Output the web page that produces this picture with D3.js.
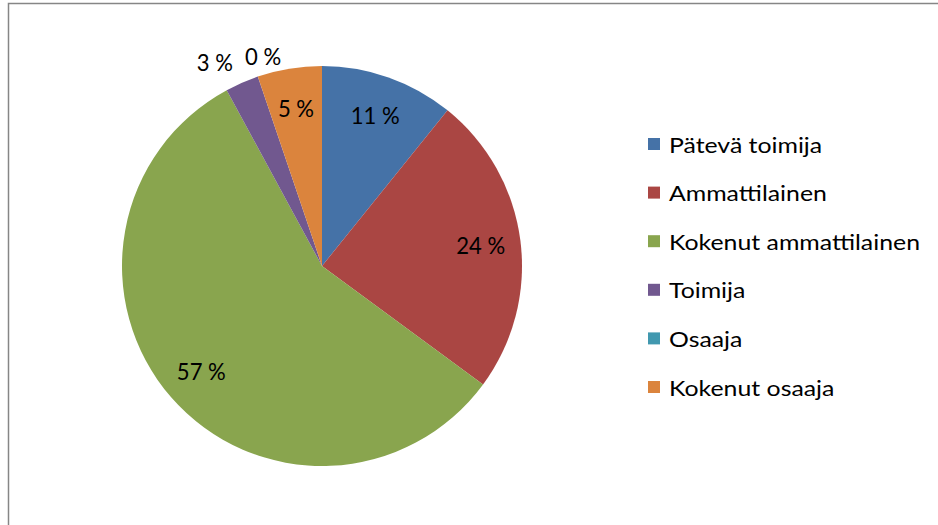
<!DOCTYPE html>
<html>
<head>
<meta charset="utf-8">
<script src="https://cdn.jsdelivr.net/npm/d3@7"></script>
<style>
  html, body { margin: 0; padding: 0; background: #fff; }
  svg { display: block; }
  text { font-family: Lato, "Open Sans", "DejaVu Sans", sans-serif; fill: #000; }
</style>
</head>
<body>
<svg id="chart" width="938" height="525"></svg>
<script>
const categories = ["Pätevä toimija", "Ammattilainen", "Kokenut ammattilainen", "Toimija", "Osaaja", "Kokenut osaaja"];
const values = [10.8, 24.3, 57.0, 2.7, 0.0, 5.2];
const labels = ["11 %", "24 %", "57 %", "3 %", "0 %", "5 %"];
const colors = ["#4572A7", "#AA4643", "#89A54E", "#71588F", "#4198AF", "#DB843D"];

const svg = d3.select("#chart");
const W = 938, H = 525;

// frame
svg.append("rect").attr("x", 8.5).attr("y", 3.5).attr("width", W + 10).attr("height", H + 10)
  .attr("fill", "#fff").attr("stroke", "#868686").attr("stroke-width", 1.5);

const cx = 322, cy = 266, r = 200;
const data = categories.map((c, i) => ({ name: c, value: values[i], label: labels[i], color: colors[i] }));

const pie = d3.pie().value(d => d.value).sort(null);
const arcs = pie(data);
const arc = d3.arc().innerRadius(0).outerRadius(r);

const g = svg.append("g").attr("transform", `translate(${cx},${cy})`);
g.selectAll("path.slice").data(arcs).enter().append("path")
  .attr("class", "slice")
  .attr("d", arc)
  .attr("fill", d => d.data.color);

// label font: tall like Calibri, squeezed horizontally to Calibri widths
const labelFont = 22.5;
const probe = svg.append("text").attr("font-size", labelFont).text("11 %");
const labelSqueeze = 49 / probe.node().getComputedTextLength();
probe.remove();

const lg = g.append("g");
const placed = arcs.map(a => {
  const mid = (a.startAngle + a.endAngle) / 2;
  const s = Math.sin(mid), c = Math.cos(mid);
  const t = lg.append("text").attr("font-size", labelFont).text(a.data.label);
  const w0 = t.node().getComputedTextLength();
  const w = w0 * labelSqueeze;
  t.attr("textLength", w).attr("lengthAdjust", "spacingAndGlyphs");
  const h = labelFont * 0.85;
  let x, y, inside = (a.endAngle - a.startAngle) > 0.25;
  if (inside) {
    const rr = r * 0.8;
    x = s * rr; y = -c * rr;
  } else {
    const rr = r + 12;
    x = s * rr + s * w / 2;
    y = -c * rr - c * h / 2;
  }
  return { t, x, y, w, h, inside };
});
// resolve overlaps among outside labels horizontally
const outs = placed.filter(p => !p.inside).sort((a, b) => a.x - b.x);
for (let k = 0; k < 5; k++) {
  for (let i = 1; i < outs.length; i++) {
    const a = outs[i - 1], b = outs[i];
    const gap = 12;
    const need = (a.w / 2 + b.w / 2 + gap) - (b.x - a.x);
    if (need > 0 && Math.abs(a.y - b.y) < a.h) { a.x -= need / 2; b.x += need / 2; }
  }
}
placed.forEach(p => {
  p.t.attr("x", p.x - p.w / 2).attr("y", p.y).attr("dominant-baseline", "central");
});

// legend
const lx = 648, ly0 = 144, step = 48.6, sq = 12;
const legFont = 22;
const leg = svg.append("g");
const probe2 = svg.append("text").attr("font-size", legFont).text("Kokenut ammattilainen");
const legSqueeze = 251 / probe2.node().getComputedTextLength();
probe2.remove();
data.forEach((d, i) => {
  const y = ly0 + i * step;
  leg.append("rect").attr("x", lx).attr("y", y - sq / 2).attr("width", sq).attr("height", sq).attr("fill", d.color);
  const t = leg.append("text").attr("x", 669).attr("y", y).attr("dominant-baseline", "central")
    .attr("font-size", legFont).text(d.name);
  const w = t.node().getComputedTextLength() * legSqueeze;
  t.attr("textLength", w).attr("lengthAdjust", "spacingAndGlyphs");
});
</script>
</body>
</html>
